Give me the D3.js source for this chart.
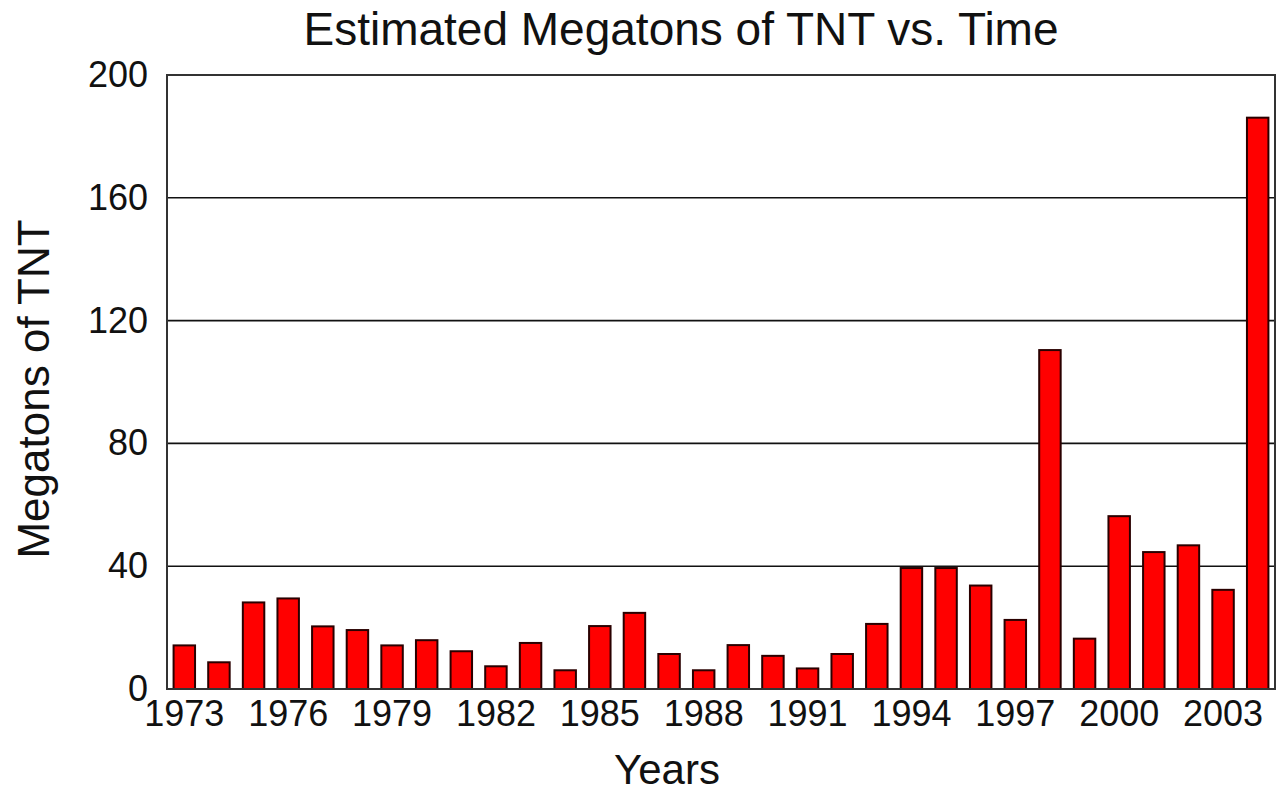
<!DOCTYPE html>
<html>
<head>
<meta charset="utf-8">
<script src="https://d3js.org/d3.v7.min.js"></script>
<style>
    body { margin: 0; background: #fff; }
    text { font-family: "Liberation Sans", Arial, sans-serif; fill: #111; }
</style>
</head>
<body>
<div class="barchart"></div>
<script>

// Chart data
var years = d3.range(1973, 2005);
var megatons = [14.2, 8.7, 28.2, 29.5, 20.4, 19.2, 14.2, 15.9, 12.3, 7.4,
                15.0, 6.1, 20.5, 24.8, 11.4, 6.1, 14.3, 10.8, 6.7, 11.4,
                21.2, 39.4, 39.4, 33.7, 22.5, 110.4, 16.4, 56.3, 44.6, 46.8,
                32.3, 186.1];
var yTicks = [0, 40, 80, 120, 160, 200];
var xTickYears = [1973, 1976, 1979, 1982, 1985, 1988, 1991, 1994, 1997, 2000, 2003];

var width = 1281,
    height = 798;

var margin = {top: 75, right: 6, bottom: 109, left: 167};
var plotW = width - margin.left - margin.right,
    plotH = height - margin.top - margin.bottom;

var svg = d3.select(".barchart")
    .append("svg")
        .attr("width", width)
        .attr("height", height);

var g = svg.append("g")
    .attr("transform", "translate(" + margin.left + "," + margin.top + ")");

// Scales
var x = d3.scaleBand()
    .domain(years)
    .range([0, plotW])
    .paddingInner(0.38)
    .paddingOuter(0.19);

var y = d3.scaleLinear()
    .domain([0, 200])
    .range([plotH, 0]);

// Horizontal grid lines
g.selectAll(".grid")
    .data(yTicks.slice(1, -1))
    .enter().append("line")
        .attr("class", "grid")
        .attr("x1", 0)
        .attr("x2", plotW)
        .attr("y1", function(d) { return y(d); })
        .attr("y2", function(d) { return y(d); })
        .style("stroke", "#111")
        .style("stroke-width", 1.6);

// Bars
g.selectAll(".bar")
    .data(megatons)
    .enter().append("rect")
        .attr("class", "bar")
        .attr("x", function(d, i) { return x(years[i]); })
        .attr("y", function(d) { return y(d); })
        .attr("width", x.bandwidth())
        .attr("height", function(d) { return plotH - y(d); })
        .style("fill", "#ff0000")
        .style("stroke", "#2a0000")
        .style("stroke-width", 2);

// Plot frame
g.append("rect")
    .attr("width", plotW)
    .attr("height", plotH)
    .style("fill", "none")
    .style("stroke", "#333")
    .style("stroke-width", 2);

// Y axis labels (no tick marks)
var yAxis = d3.axisLeft(y)
    .tickValues(yTicks)
    .tickSize(0)
    .tickPadding(19);

g.append("g")
    .attr("class", "yAxis")
    .call(yAxis)
    .call(function(a) { a.select(".domain").remove(); })
    .selectAll("text")
        .style("font-size", "36px")
        .style("font-family", "'Liberation Sans', Arial, sans-serif")
        .style("fill", "#111");

// X axis labels, every third year
var xAxis = d3.axisBottom(x)
    .tickValues(xTickYears)
    .tickSize(0)
    .tickPadding(11);

g.append("g")
    .attr("class", "xAxis")
    .attr("transform", "translate(0," + plotH + ")")
    .call(xAxis)
    .call(function(a) { a.select(".domain").remove(); })
    .selectAll("text")
        .style("font-size", "36px")
        .style("font-family", "'Liberation Sans', Arial, sans-serif")
        .style("fill", "#111");

// Titles
svg.append("text")
    .attr("x", 681)
    .attr("y", 45)
    .attr("text-anchor", "middle")
    .style("font-size", "46px")
    .text("Estimated Megatons of TNT vs. Time");

svg.append("text")
    .attr("x", 667)
    .attr("y", 784)
    .attr("text-anchor", "middle")
    .style("font-size", "42px")
    .text("Years");

svg.append("text")
    .attr("transform", "translate(49,389) rotate(-90)")
    .attr("text-anchor", "middle")
    .style("font-size", "44px")
    .text("Megatons of TNT");

</script>
</body>
</html>
